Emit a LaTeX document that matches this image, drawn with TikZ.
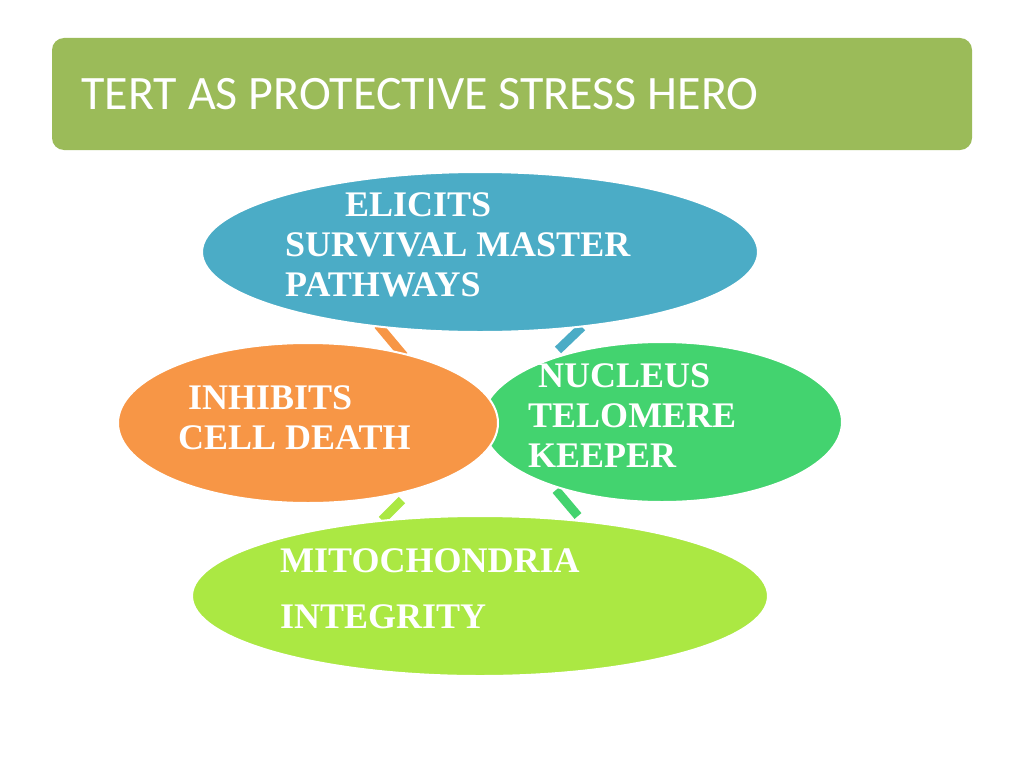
\documentclass[tikz,border=0pt]{standalone}
\usepackage{fontspec}
\setmainfont{Liberation Serif}
\newfontfamily\titlefont{Carlito}
\begin{document}
\begin{tikzpicture}[x=1pt,y=-1pt,
  ell/.style={draw=white,line width=2pt},
  lbl/.style={text=white,font=\fontsize{36}{40}\selectfont\bfseries,align=left,anchor=north west,inner sep=0pt},
  stub/.style={line width=9pt}]
\useasboundingbox (0,0) rectangle (1024,768);
\definecolor{tg}{HTML}{9BBB59}
\definecolor{bl}{HTML}{4BACC6}
\definecolor{og}{HTML}{F79646}
\definecolor{gr}{HTML}{43D36F}
\definecolor{lm}{HTML}{ABE843}
\node[fill=tg,rounded corners=12pt,minimum width=920,minimum height=112,inner sep=0pt] (title) at (512,94) {};
\node[text=white,font=\titlefont\fontsize{48}{52}\selectfont,anchor=west] (tt) at (78,94) {TERT AS PROTECTIVE STRESS HERO};
\coordinate (s1a) at (378,325); \coordinate (s1b) at (404,356);
\coordinate (s2a) at (582,327); \coordinate (s2b) at (558,350);
\coordinate (s3a) at (556,490); \coordinate (s3b) at (578,516);
\coordinate (s4a) at (402,500); \coordinate (s4b) at (382,520);
\draw[stub,og] (s1a) -- (s1b);
\draw[stub,bl] (s2a) -- (s2b);
\draw[stub,gr] (s3a) -- (s3b);
\draw[stub,lm] (s4a) -- (s4b);
\fill[lm,ell] (480,596) ellipse (288 and 80);
\fill[bl,ell] (480,252) ellipse (278 and 80);
\filldraw[gr,ell] (662,422) ellipse (180 and 80);
\filldraw[og,ell] (308,423) ellipse (190 and 80);
\node[lbl] (t1) at (285,192) {\hspace*{60pt}ELICITS\\SURVIVAL MASTER\\PATHWAYS};
\node[lbl] (t2) at (178,385) {\hspace*{10pt}INHIBITS\\CELL DEATH};
\node[lbl] (t3) at (528,363) {\hspace*{10pt}NUCLEUS\\TELOMERE\\KEEPER};
\node[lbl,font=\fontsize{36}{56}\selectfont\bfseries] (t4) at (280,548) {MITOCHONDRIA\\INTEGRITY};
\end{tikzpicture}
\end{document}
